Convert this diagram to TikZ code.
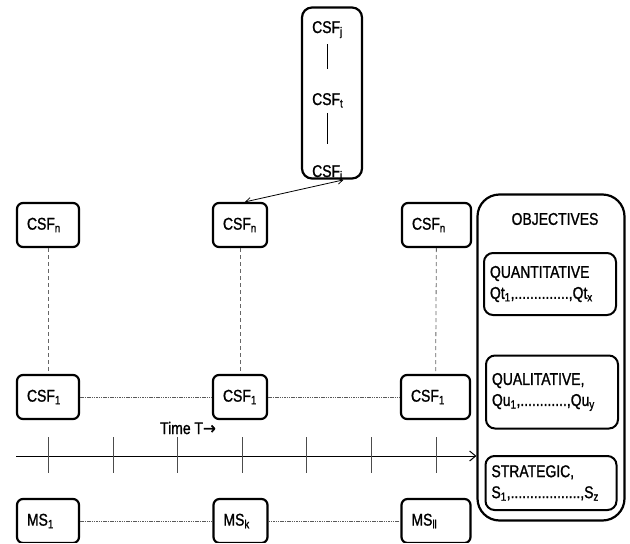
\documentclass[tikz,border=0pt]{standalone}
\usepackage{fontspec}
\setmainfont{Liberation Sans}[FakeStretch=0.82,FakeBold=1.2]
\newfontfamily\arrowfont{DejaVu Sans}[FakeStretch=0.9,FakeBold=1.5]
\usetikzlibrary{arrows.meta}
\begin{document}
\begin{tikzpicture}[x=1pt,y=-1pt,
  font=\fontsize{17}{21}\selectfont,
  box/.style={draw, line width=2.2pt, rounded corners=6pt, minimum height=44pt,
    inner xsep=10pt, inner ysep=0pt, align=left},
  ibox/.style={draw, line width=2pt, rounded corners=9pt, inner xsep=6pt,
    inner ysep=0pt, align=left},
  plain/.style={inner sep=0pt, anchor=base west},
  vdash/.style={draw=black!60, line width=0.8pt, dash pattern=on 4pt off 3pt},
  hdot/.style={draw=black!65, line width=0.9pt, dash pattern=on 1.5pt off 0.8pt},
  tick/.style={draw=black!70, line width=0.9pt},
  inner line/.style={draw, line width=0.8pt}
]
\useasboundingbox (0,0) rectangle (630,544);
\clip (0,0) rectangle (630,542);

% top stack
\node[draw, line width=2.2pt, rounded corners=10pt, minimum width=60pt,
      minimum height=171pt] (stack) at (332,93) {};
\node[plain] (csfj) at (312,33) {CSF\textsubscript{j}};
\node[plain] (csft) at (312,105) {CSF\textsubscript{t}};
\node[plain] (csfi) at (312,177) {CSF\textsubscript{i}};
\draw[inner line, shorten <=6pt, shorten >=24pt] (csfj.south) -- (csfj.south |- csft.north);
\draw[inner line, shorten <=5pt, shorten >=21pt] (csft.south) -- (csft.south |- csfi.north);

% CSF_n row
\node[box, text width=42pt] (csfnA) at (48,225) {CSF\textsubscript{n}};
\node[box, text width=34pt] (csfnB) at (240,225) {CSF\textsubscript{n}};
\node[box, text width=49pt] (csfnC) at (436.5,225) {CSF\textsubscript{n}};

% CSF_1 row
\node[box, text width=42pt] (csf1A) at (48,397) {CSF\textsubscript{1}};
\node[box, text width=34pt] (csf1B) at (240,397) {CSF\textsubscript{1}};
\node[box, text width=49pt] (csf1C) at (435.5,397) {CSF\textsubscript{1}};

% MS row
\node[box, text width=42pt] (msA) at (48,521) {MS\textsubscript{1}};
\node[box, text width=34pt] (msB) at (240.5,521) {MS\textsubscript{k}};
\node[box, text width=49pt] (msC) at (436,521) {MS\textsubscript{ll}};

% arrow between stack and middle CSF_n
\draw[line width=0.8pt, {Straight Barb[length=5pt,width=6pt]}-{Straight Barb[length=5pt,width=6pt]}]
  ([xshift=16pt]csfi.south) -- ([xshift=5pt]csfnB.north);

% vertical dashed
\draw[vdash] (csfnA) -- (csf1A);
\draw[vdash] (csfnB) -- (csf1B);
\draw[vdash] (csfnC) -- (csf1C);

% horizontal dotted
\draw[hdot] (csf1A) -- (csf1B);
\draw[hdot] (csf1B) -- (csf1C);
\draw[hdot] (msA) -- (msB);
\draw[hdot] (msB) -- (msC);

% objectives
\node[draw, line width=2.2pt, rounded corners=22pt, minimum width=147pt,
      minimum height=326pt] (obj) at (551,357.5) {};
\node[inner sep=0pt] (objtitle) at (555,219) {OBJECTIVES};
\node[ibox, text width=120pt, minimum height=62pt] (quant) at (550,284)
  {QUANTITATIVE\\Qt\textsubscript{1},..............,Qt\textsubscript{x}};
\node[ibox, text width=120pt, minimum height=73pt] (qual) at (552,392)
  {QUALITATIVE,\\Qu\textsubscript{1},............,Qu\textsubscript{y}};
\node[ibox, text width=119pt, minimum height=54pt] (strat) at (551,483)
  {STRATEGIC,\\S\textsubscript{1},..................,S\textsubscript{z}};

% timeline
\coordinate (tl0) at (16,456);
\draw[line width=1pt, -{Straight Barb[length=6pt,width=10pt]}] (tl0) -- (obj.west |- tl0);
\foreach \x in {48,113,177,242,306,371,436}
  \draw[tick] (\x,437) -- (\x,473);
\node[inner sep=0pt] (timelbl) at (188,428) {Time T{\arrowfont →}};
\end{tikzpicture}
\end{document}
